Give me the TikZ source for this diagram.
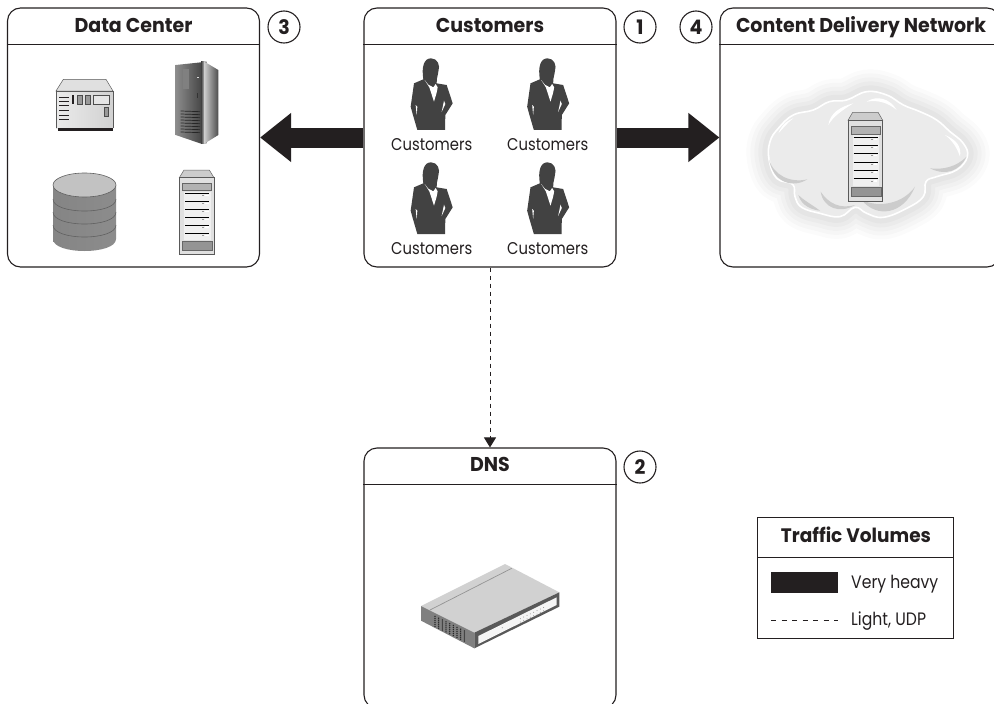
\documentclass[tikz,border=0pt]{standalone}
\usepackage{fontspec}
\setmainfont{Poppins}
\newfontfamily\hdfont[FakeStretch=0.95]{Poppins Bold}
\newfontfamily\txfont[FakeStretch=0.87]{Poppins}
\usetikzlibrary{arrows.meta,calc,shadings}
\definecolor{ink}{HTML}{231F20}
\tikzset{
  panel/.style={draw=ink,line width=1.1pt,rounded corners=13pt,fill=white,inner sep=0pt},
  hdr/.style={draw=ink,line width=1.5pt},
  title/.style={font=\hdfont\fontsize{20}{20}\selectfont,text=ink,inner sep=0pt,anchor=base},
  lbl/.style={font=\txfont\fontsize{17}{17}\selectfont,text=ink,inner sep=0pt,anchor=base},
  num/.style={circle,draw=ink,line width=1.1pt,minimum size=32pt,inner sep=0pt,font=\hdfont\fontsize{20}{20}\selectfont,text=ink},
  heavy/.style={draw=ink,line width=20pt,-{Triangle[length=31pt,width=47pt,fill=ink]}},
  light/.style={draw=ink,line width=.9pt,dash pattern=on 4.5pt off 3.5pt,-{Triangle[length=10pt,width=12pt,fill=ink]}},
  person/.pic={
    \fill[fill=black!74] (70,88) .. controls (64,50) and (72,25) .. (93,25)
      .. controls (112,25) and (122,45) .. (115,65)
      .. controls (112,85) and (108,92) .. (110,100)
      -- (140,105) -- (158,160) -- (136,195) -- (135,240) -- (52,240) -- (38,192) -- (32,170) -- (42,100) -- cycle;
    \fill[white] (74,90) -- (88,112) -- (102,155) -- (110,128) -- (113,112) -- (107,102) -- (100,112) -- (85,104) -- cycle;
    \fill[white] (125,186) -- (132,152) -- (136,162) -- cycle;
    \fill[white] (50,195) -- (47,165) -- (52,170) -- cycle;
  },
  rackserver/.pic={
    \filldraw[draw=black!60,line width=.5pt,fill=black!20] (28,38) -- (42,15) -- (118,15) -- (132,38) -- cycle;
    \filldraw[draw=black!65,line width=.5pt,fill=black!12] (28,38) rectangle (132,268);
    \filldraw[draw=black!60,line width=.5pt,fill=black!30] (38,55) rectangle (125,77);
    \fill[black!6] (42,80) rectangle (122,225);
    \foreach \ly in {86,110,133,157,180,205}{
      \draw[black,line width=.8pt] (45,\ly) -- (118,\ly);
      \fill[white] (106,\ly+4) rectangle (116,\ly+8);
      \fill[black!40] (97,\ly+5) rectangle (102,\ly+7);
    }
    \filldraw[draw=black!60,line width=.5pt,fill=black!42] (37,230) rectangle (127,255);
  },
  chassis/.pic={
    \filldraw[draw=black!65,line width=.5pt,fill=black!12] (33,63) -- (55,28) -- (183,28) -- (204,63) -- cycle;
    \shade[left color=black!8,right color=black!18] (33,63) rectangle (204,175);
    \draw[black!65,line width=.6pt] (33,175) -- (33,63) -- (204,63) -- (204,175);
    \fill[ink] (40,175) rectangle (204,183);
    \foreach \ly in {82,94,107,122,135,148}{\draw[ink,line width=.8pt] (42,\ly) -- (72,\ly);}
    \fill[ink] (82,75) rectangle (87,103);
    \filldraw[draw=black!70,line width=.5pt,fill=black!40] (97,75) rectangle (111,103);
    \filldraw[draw=black!70,line width=.5pt,fill=black!40] (121,75) rectangle (135,103);
    \filldraw[draw=black!70,line width=.5pt,fill=black!10] (145,75) rectangle (192,103);
    \filldraw[draw=black!70,line width=.5pt,fill=black!40] (178,112) rectangle (190,140);
  },
  tower/.pic={
    \shade[left color=black!45,right color=black!72] (32,30) -- (108,22) -- (108,266) -- (32,240) -- cycle;
    \fill[black!65] (108,20) -- (125,20) -- (125,265) -- (108,266) -- cycle;
    \shade[left color=black!75,right color=black!25] (108,20) -- (118,20) -- (118,266) -- (108,266) -- cycle;
    \shade[left color=black!20,right color=black!70] (118,20) -- (160,45) -- (160,240) -- (118,266) -- cycle;
    \fill[black!50] (55,42) rectangle (72,103);
    \fill[black!15] (95,66) rectangle (102,70);
    \fill[black!80] (95,113) rectangle (98,130);
    \foreach \ly in {168,177,186,195,204,213,222,231}{\draw[black!85,line width=.7pt] (47,\ly) -- (105,\ly+2);}
  },
  dbstack/.pic={
    \shade[left color=black!48,middle color=black!24,right color=black!45] (53,185) -- (53,239) .. controls (53,255) and (116,255) .. (116,239) -- (116,185) -- cycle;
    \foreach \ly in {199,212,225}{
      \draw[black!62,line width=.6pt] (53,\ly) .. controls (53,\ly+16) and (116,\ly+16) .. (116,\ly);
    }
    \filldraw[draw=black!62,line width=.6pt,fill=black!24] (84.5,185) ellipse [x radius=31.5,y radius=12];
  },
  netswitch/.pic={
    \fill[black!18] (18,138) -- (270,12) -- (433,97) -- (178,218) -- cycle;
    \fill[black!50] (18,138) -- (178,218) -- (178,265) -- (18,182) -- cycle;
    \fill[black!65] (178,218) -- (433,97) -- (433,140) -- (178,265) -- cycle;
    \fill[black!4] (190,228) -- (425,112) -- (425,135) -- (190,252) -- cycle;
    \draw[black!42,line width=.7pt] (45,150) -- (290,25);
    \foreach \col in {0,...,8}{\foreach \row in {0,...,5}{
      \fill[black!85] ({60+\col*11},{169+\col*5.5+\row*6}) circle (2.3);
    }}
    \foreach \col in {0,...,7}{\foreach \row in {0,1}{
      \fill[black!45] ({316+\col*10},{176-\col*4.8+\row*10}) circle (1.5);
    }}
    \fill[black!30] (262,203) circle (2);
  },
}
\begin{document}
\begin{tikzpicture}[x=1pt,y=-1pt]
\useasboundingbox (0,0) rectangle (994,704);
% panels
\node[panel,minimum width=252pt,minimum height=259pt] (dc) at (133.5,137.5) {};
\node[panel,minimum width=252pt,minimum height=259pt] (cust) at (490,137.5) {};
\node[panel,minimum width=280pt,minimum height=259pt] (cdn) at (860,137.5) {};
\node[panel,minimum width=252pt,minimum height=260pt] (dns) at (490,578) {};
\draw[hdr] ($(dc.north west)+(0,37)$) -- ($(dc.north east)+(0,37)$);
\draw[hdr] ($(cust.north west)+(0,37)$) -- ($(cust.north east)+(0,37)$);
\draw[hdr] ($(cdn.north west)+(0,37)$) -- ($(cdn.north east)+(0,37)$);
\draw[hdr] ($(dns.north west)+(0,37)$) -- ($(dns.north east)+(0,37)$);
% titles
\node[title] (tdc) at (133.5,32) {Data Center};
\node[title] (tcust) at (490,32) {Customers};
\node[title] (tcdn) at (861,32) {Content Delivery Network};
\node[title] (tdns) at (490,471.5) {DNS};
% numbers
\node[num] (n3) at (284,27) {3};
\node[num] (n1) at (640,27) {1};
\node[num] (n4) at (696,27) {4};
\node[num] (n2) at (640,467) {2};
% connectors
\draw[heavy] (cust.west) -- (dc.east);
\draw[heavy] (cust.east) -- (cdn.west);
\draw[light] (cust.south) -- (dns.north);
% data center icons
\pic[scale=1/3] at (45,70) {chassis};
\pic[scale=1/3] at (165,55) {tower};
\pic {dbstack};
\pic[scale=1/3] at (170,165) {rackserver};
% customers
\foreach \px/\py in {400/50,516.5/50,400/154,516.5/154}{\pic[scale=1/3] at (\px,\py) {person};}
\node[lbl] (c1) at (431.7,150) {Customers};
\node[lbl] (c2) at (547.7,150) {Customers};
\node[lbl] (c3) at (431.7,254) {Customers};
\node[lbl] (c4) at (547.7,254) {Customers};
% cloud
\begin{scope}[shift={(670,0)},scale=1/3]
\def\cloudpath{(297,478) (300,425) (325,385) (370,345) (430,330) (478,305) (530,300) (590,275) (650,285) (700,315) (750,335) (800,360) (840,395) (880,430) (892,470) (860,510) (800,530) (768,545) (760,590) (710,625) (640,652) (590,640) (555,622) (510,650) (450,640) (395,622) (375,590) (368,553) (320,535)}
\foreach \w/\o in {44/.016,36/.018,28/.02,20/.022,12/.024}{
  \draw[black,opacity=\o,line width=\w pt,line join=round] plot[smooth cycle,tension=.7] coordinates {\cloudpath};
}
\filldraw[fill=black!8,draw=white,line width=1.6pt] plot[smooth cycle,tension=.7] coordinates {\cloudpath};
\fill[black!20] (297,478) .. controls (310,525) and (360,550) .. (412,538) .. controls (370,565) and (310,550) .. (297,478) -- cycle;
\fill[black!20] (385,585) .. controls (395,620) and (430,630) .. (450,632) .. controls (420,610) and (400,600) .. (385,585) -- cycle;
\fill[black!20] (452,575) .. controls (460,625) and (510,642) .. (555,615) .. controls (510,628) and (475,610) .. (452,575) -- cycle;
\fill[black!20] (575,600) .. controls (620,655) and (700,645) .. (735,560) .. controls (700,610) and (630,625) .. (575,600) -- cycle;
\fill[black!20] (780,505) .. controls (830,530) and (870,510) .. (890,470) .. controls (860,500) and (820,510) .. (780,505) -- cycle;
\fill[white] (325,400) .. controls (340,365) and (360,360) .. (370,355) .. controls (350,370) and (340,385) .. (325,400) -- cycle;
\fill[white] (475,375) .. controls (480,340) and (510,320) .. (550,310) .. controls (510,335) and (490,350) .. (475,375) -- cycle;
\fill[white] (590,305) .. controls (620,285) and (660,295) .. (680,330) .. controls (650,305) and (620,300) .. (590,305) -- cycle;
\fill[white] (825,405) .. controls (860,420) and (875,440) .. (870,470) .. controls (860,440) and (845,420) .. (825,405) -- cycle;
\end{scope}
\pic[xscale=1/3,yscale=.35] at (838.7,107) {rackserver};
% dns
\pic[scale=1/3] at (415,560) {netswitch};
% legend
\node[draw=ink,line width=1pt,minimum width=196pt,minimum height=121pt,inner sep=0pt] (leg) at (855.5,577.5) {};
\draw[draw=ink,line width=.8pt] ($(leg.north west)+(0,41)$) -- ($(leg.north east)+(0,41)$);
\node[title,font=\hdfont\fontsize{19.5}{19.5}\selectfont] (tleg) at (856,542.5) {Traffic Volumes};
\node[fill=ink,minimum width=67pt,minimum height=21pt,inner sep=0pt] (swh) at (804.5,582.5) {};
\coordinate (sla) at (771,620);
\coordinate (slb) at (838,620);
\draw[draw=ink,line width=.9pt,dash pattern=on 5pt off 5.5pt] (sla) -- (slb);
\node[lbl,anchor=base west,font=\txfont\fontsize{18}{18}\selectfont] (lvh) at (851,588) {Very heavy};
\node[lbl,anchor=base west,font=\txfont\fontsize{18}{18}\selectfont] (llu) at (851,625) {Light, UDP};
\end{tikzpicture}
\end{document}
